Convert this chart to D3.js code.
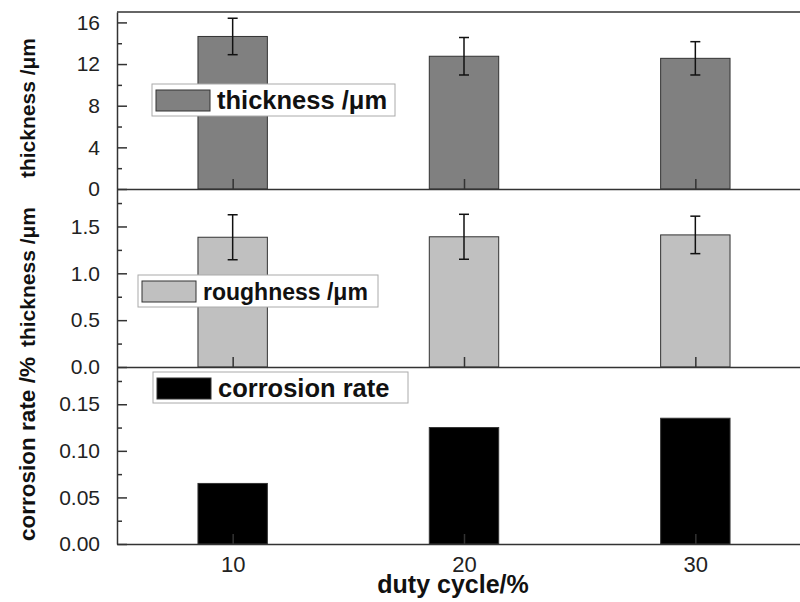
<!DOCTYPE html>
<html>
<head>
<meta charset="utf-8">
<script src="https://cdn.jsdelivr.net/npm/d3@7"></script>
<style>
  body { margin: 0; background: #fff; }
  text { font-family: "Liberation Sans", Arial, sans-serif; }
</style>
</head>
<body>
<svg id="svg" width="800" height="602"></svg>
<script>
// data
const dutyCycle = [10, 20, 30];
const thickness = [14.65, 12.75, 12.55];
const thicknessErr = [1.75, 1.8, 1.6];
const roughness = [1.385, 1.39, 1.41];
const roughnessErr = [0.24, 0.24, 0.2];
const corrosion = [0.065, 0.125, 0.135];

const thicknessTicks = [0, 4, 8, 12, 16];
const roughnessTicks = [0, 0.5, 1.0, 1.5];
const corrosionTicks = [0, 0.05, 0.10, 0.15];

const svg = d3.select("#svg");

const left = 117;
const right = 811;
const x = d3.scaleLinear().domain([5, 35]).range([left, right]);
const barW = x(8) - x(5);

const panels = [
    { values: thickness, errors: thicknessErr, top: 12, bottom: 189, max: 17,
      ticks: thicknessTicks, step: 4, fmt: d3.format("d"), fill: "#808080",
      ylabel: "thickness /\u03bcm", labelY: 108, labelSize: 21,
      legend: { x: 152, y: 84, w: 243, h: 32, size: 25.5, text: "thickness /\u03bcm" } },
    { values: roughness, errors: roughnessErr, top: 189, bottom: 367, max: 1.9,
      ticks: roughnessTicks, step: 0.5, fmt: d3.format(".1f"), fill: "#c0c0c0",
      ylabel: "thickness /\u03bcm", labelY: 277, labelSize: 21,
      legend: { x: 138, y: 275, w: 240, h: 32, size: 23, text: "roughness /\u03bcm" } },
    { values: corrosion, errors: null, top: 367, bottom: 544, max: 0.19,
      ticks: corrosionTicks, step: 0.05, fmt: d3.format(".2f"), fill: "#000000",
      ylabel: "corrosion rate /%", labelY: 449, labelSize: 22.5,
      legend: { x: 153, y: 372, w: 255, h: 31, size: 25.5, text: "corrosion rate" } }
];

panels.forEach((p, i) => {
    const y = d3.scaleLinear().domain([0, p.max]).range([p.bottom, p.top]);
    const g = svg.append("g");

    // bars
    g.selectAll("rect.bar")
        .data(dutyCycle)
        .join("rect")
        .attr("class", "bar")
        .attr("x", (d) => x(d) - barW / 2)
        .attr("y", (d, j) => y(p.values[j]))
        .attr("width", barW)
        .attr("height", (d, j) => p.bottom - y(p.values[j]))
        .attr("fill", p.fill)
        .attr("stroke", "#333")
        .attr("stroke-width", 1);

    // error bars
    if (p.errors) {
        const eb = g.selectAll("g.err")
            .data(dutyCycle)
            .join("g")
            .attr("class", "err")
            .attr("stroke", "#111")
            .attr("stroke-width", 1.5);
        eb.append("line")
            .attr("x1", (d) => x(d)).attr("x2", (d) => x(d))
            .attr("y1", (d, j) => y(p.values[j] + p.errors[j]))
            .attr("y2", (d, j) => y(p.values[j] - p.errors[j]));
        [1, -1].forEach((s) => {
            eb.append("line")
                .attr("x1", (d) => x(d) - 5).attr("x2", (d) => x(d) + 5)
                .attr("y1", (d, j) => y(p.values[j] + s * p.errors[j]))
                .attr("y2", (d, j) => y(p.values[j] + s * p.errors[j]));
        });
    }

    // minor y ticks
    const minors = p.ticks.map((t) => t + p.step / 2).filter((t) => t < p.max);
    g.append("g")
        .attr("transform", `translate(${left},0)`)
        .call(d3.axisLeft(y).tickValues(minors).tickSize(-5).tickSizeOuter(0).tickFormat(""))
        .call((a) => a.select(".domain").remove())
        .selectAll("line").attr("stroke", "#333").attr("stroke-width", 1.5);

    // major y ticks
    const ya = g.append("g")
        .attr("transform", `translate(${left},0)`)
        .call(d3.axisLeft(y).tickValues(p.ticks).tickSize(-10).tickSizeOuter(0)
            .tickPadding(17).tickFormat(p.fmt));
    ya.select(".domain").attr("stroke", "#333").attr("stroke-width", 1.5);
    ya.selectAll("line").attr("stroke", "#333").attr("stroke-width", 1.5);
    ya.selectAll("text")
        .attr("font-size", 21)
        .attr("fill", "#222")
        .attr("font-family", "Liberation Sans, Arial, sans-serif");

    // x axis at panel bottom
    const xa = g.append("g")
        .attr("transform", `translate(0,${p.bottom})`)
        .call(d3.axisBottom(x).tickValues(dutyCycle).tickSize(-10).tickSizeOuter(0)
            .tickPadding(12).tickFormat(i === 2 ? d3.format("d") : ""));
    xa.select(".domain").attr("stroke", "#333").attr("stroke-width", 1.5);
    xa.selectAll("line").attr("stroke", "#333").attr("stroke-width", 1.5);
    xa.selectAll("text")
        .attr("font-size", 22)
        .attr("fill", "#222")
        .attr("font-family", "Liberation Sans, Arial, sans-serif");

    // top frame line
    if (i === 0) {
        g.append("line")
            .attr("x1", left).attr("x2", right)
            .attr("y1", p.top).attr("y2", p.top)
            .attr("stroke", "#333").attr("stroke-width", 1.5);
    }

    // y label
    g.append("text")
        .attr("transform", `translate(27,${p.labelY}) rotate(-90)`)
        .attr("text-anchor", "middle")
        .attr("dominant-baseline", "central")
        .attr("font-size", p.labelSize)
        .attr("font-weight", "bold")
        .attr("fill", "#111")
        .text(p.ylabel);

    // legend
    const L = p.legend;
    const lg = g.append("g").attr("transform", `translate(${L.x},${L.y})`);
    lg.append("rect")
        .attr("width", L.w).attr("height", L.h)
        .attr("fill", "#fff").attr("stroke", "#aaa").attr("stroke-width", 1);
    lg.append("rect")
        .attr("x", 4).attr("y", 6).attr("width", 54).attr("height", 21)
        .attr("fill", p.fill).attr("stroke", "#333").attr("stroke-width", 1);
    lg.append("text")
        .attr("x", 65).attr("y", 25)
        .attr("font-size", L.size)
        .attr("font-weight", "bold")
        .attr("fill", "#111")
        .text(L.text);
});

svg.append("text")
    .attr("x", 453).attr("y", 593)
    .attr("text-anchor", "middle")
    .attr("font-size", 25)
    .attr("font-weight", "bold")
    .attr("fill", "#111")
    .text("duty cycle/%");
</script>
</body>
</html>
